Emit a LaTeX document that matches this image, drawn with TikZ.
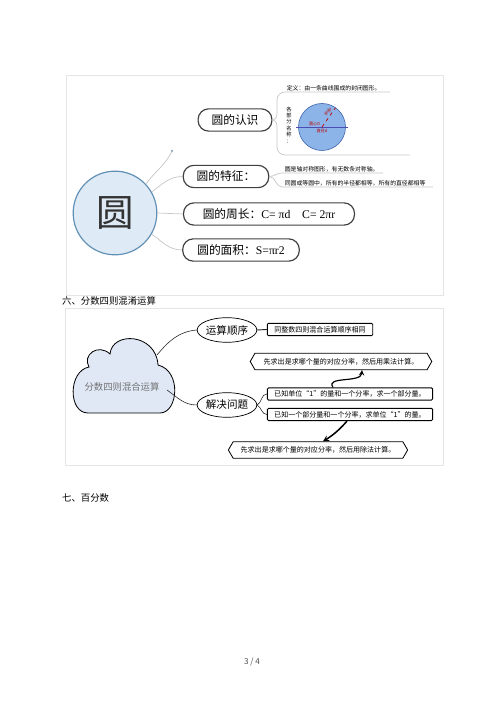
\documentclass[tikz,border=0pt]{standalone}
\usepackage{fontspec}
\setmainfont{Liberation Serif}
\newfontfamily\cjk{Noto Sans CJK SC}
\usetikzlibrary{shapes.geometric,shapes.symbols,calc}
\definecolor{bubble}{RGB}{222,234,245}
\definecolor{bubbleline}{RGB}{96,143,181}
\definecolor{disk}{RGB}{140,180,232}
\definecolor{diskline}{RGB}{60,100,170}
\definecolor{cloudfill}{RGB}{224,232,246}

\begin{document}
\begin{tikzpicture}[x=0.03cm, y=0.03cm,
    topic/.style={draw=black!75, line width=1pt, rounded corners=9pt, fill=white,
      minimum height=19pt, inner xsep=8pt, font=\cjk\fontsize{10}{12}\selectfont},
    branch/.style={draw=gray!45, line width=0.6pt},
    note/.style={inner sep=0.5pt, font=\cjk\fontsize{5}{6}\selectfont},
    oval/.style={ellipse, draw, line width=0.6pt, fill=white, minimum width=47.6pt,
      minimum height=21pt, inner sep=0pt, font=\cjk\fontsize{9}{10}\selectfont},
    box/.style={draw, line width=0.8pt, rounded corners=1pt, fill=white,
      minimum height=10.5pt, inner sep=1pt, font=\cjk\fontsize{6}{7}\selectfont},
    hexa/.style={signal, signal to=east and west, signal pointer angle=120, draw,
      line width=0.7pt, fill=white, minimum height=14pt, inner sep=1pt,
      font=\cjk\fontsize{6}{7}\selectfont},
    link/.style={draw=black!85, line width=0.5pt},
    heading/.style={anchor=west, inner sep=0pt, font=\cjk\fontsize{8}{9}\selectfont}]
  \useasboundingbox (0,0) rectangle (500,707);

  % first mind map: the circle
  \draw[gray!20] (66,412) rectangle (443,632);
  \node[circle, draw=bubbleline, line width=1pt, fill=bubble, minimum size=71.4pt,
    text=black!80, font=\cjk\fontsize{32}{32}\selectfont] (yuan) at (115,494) {圆};

  \node[topic, minimum width=63pt] (renshi) at (235,587) {圆的认识};
  \node[topic, minimum width=73pt] (tezheng) at (226,530.5) {圆的特征：};
  \node[topic, minimum width=146pt] (zhouchang) at (269,493) {圆的周长：{\rmfamily C= πd\quad C= 2πr}};
  \node[topic, minimum width=99.5pt] (mianji) at (241,457) {圆的面积：{\rmfamily S=πr2}};

  \coordinate (tip) at (172,556);
  \fill[bubbleline] (tip) circle (1.2);
  \draw[branch] (yuan.43) to[out=55,in=245] (tip);
  \draw[branch] (yuan.30) to[out=35,in=180] (tezheng.west);
  \draw[branch] (yuan.east) -- (zhouchang.west);
  \draw[branch] (yuan.-30) to[out=-35,in=180] (mianji.west);

  % what a circle is
  \draw[branch] (renshi.east) to[out=0,in=270] (277,600) -- (277,607)
    to[out=90,in=180] (285,615) -- (390,615);
  \draw[branch] (renshi.east) to[out=0,in=90] (277,574) -- (277,560)
    to[out=270,in=180] (285,552) -- (410,552);
  \node[note, anchor=south west] (dingyi) at (286,615.5) {定义：由一条曲线围成的封闭图形。};
  \node[note, align=center, font=\cjk\fontsize{4.5}{5.5}\selectfont] (mingcheng) at (289,582)
    {各\\部\\分\\名\\称\\：};
  \path[draw=diskline, fill=disk, line width=0.5pt] (322,580) circle (23.5);
  \coordinate (disk) at (322,580);
  \draw[gray!60!blue, line width=0.5pt] ($(disk)+(-26,0)$) -- ($(disk)+(26,0)$);
  \draw[red!75!black, line width=0.6pt, dashed] (disk) -- ++(55:23.5);
  \node[red!75!black, inner sep=0pt, rotate=55, font=\cjk\fontsize{3.5}{4}\selectfont]
    (banjing) at ($(disk)+(6,15)$) {半径r};
  \node[red!75!black, inner sep=0pt, font=\cjk\fontsize{3.5}{4}\selectfont,
    anchor=east] (yuanxin) at ($(disk)+(-1.5,2.5)$) {圆心O};
  \node[red!75!black, inner sep=0pt, font=\cjk\fontsize{3.5}{4}\selectfont]
    (zhijing) at ($(disk)+(0,-4)$) {直径d};

  % features
  \draw[branch] (tezheng.east) to[out=0,in=180] (282,534) -- (383,534);
  \draw[branch] (tezheng.east) to[out=0,in=180] (282,520) -- (433,520);
  \node[note, anchor=south west] (duichen) at (284,534.5) {圆是轴对称图形，有无数条对称轴。};
  \node[note, anchor=south west] (xiangdeng) at (284,520.5) {同圆或等圆中，所有的半径都相等，所有的直径都相等};

  \node[heading] (liu) at (62,406) {六、分数四则混淆运算};

  % second mind map: fractions
  \draw[gray!20] (65,242) rectangle (443,399);
  \draw[line width=0.7pt, fill=cloudfill] (88,294) -- (160,294)
    .. controls (178,294) and (182,336) .. (158,342)
    .. controls (156,374) and (112,376) .. (110,353)
    .. controls (98,364) and (82,352) .. (89,340)
    .. controls (68,336) and (68,294) .. (88,294) -- cycle;
  \node[inner sep=0pt, text=black!55, font=\cjk\fontsize{8}{9}\selectfont] (cloud) at (122,320) {分数四则混合运算};
  \coordinate (cloudNE) at (157,352);
  \coordinate (cloudSE) at (167,317);

  \node[oval] (shunxu) at (227,377) {运算顺序};
  \node[oval] (wenti) at (227,302) {解决问题};
  \draw[link] (cloudNE) to[out=50,in=185] (shunxu.west);
  \draw[link] (cloudSE) to[out=-35,in=180] (wenti.west);

  \node[box, minimum width=90pt] (tongzheng) at (320,377.5) {同整数四则混合运算顺序相同};
  \draw[link, line width=0.8pt] (shunxu.east) -- (tongzheng.west);

  \node[box, minimum width=141pt] (yizhi1) at (350,313) {已知单位“1”的量和一个分率，求一个部分量。};
  \node[box, minimum width=141pt] (yizhi2) at (350,292.5) {已知一个部分量和一个分率，求单位“1”的量。};
  \draw[link] (wenti.east) to[out=30,in=180] (yizhi1.west);
  \draw[link] (wenti.east) to[out=-30,in=180] (yizhi2.west);

  \node[hexa, minimum width=155pt] (chengfa) at (341,345.5) {先求出是求哪个量的对应分率，然后用乘法计算。};
  \node[hexa, minimum width=153pt] (chufa) at (318,257) {先求出是求哪个量的对应分率，然后用除法计算。};
  \draw[black, ->, >=stealth, line width=1pt] ($(yizhi1.north)+(-17,0)$)
    .. controls (325,331) and (361,324) .. ($(chengfa.south)+(21,0)$);
  \draw[black, ->, >=stealth, line width=1.3pt] ($(yizhi2.south)+(-3,0)$)
    to[bend left=8] ($(chufa.north)+(5,0)$);

  \node[heading] (qi) at (62,209) {七、百分数};
  \node[inner sep=0pt, text=black!70, font=\cjk\fontsize{7}{8}\selectfont] (page) at (252,45) {3 / 4};
\end{tikzpicture}
\end{document}
